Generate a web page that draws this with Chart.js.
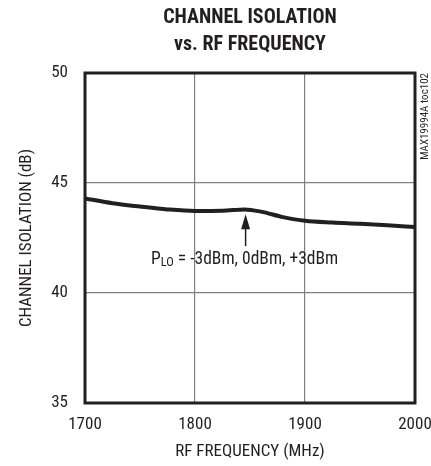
<!DOCTYPE html>
<html>
<head>
<meta charset="utf-8">
<script src="https://cdn.jsdelivr.net/npm/chart.js@4/dist/chart.umd.min.js"></script>
<style>
  html, body { margin: 0; padding: 0; background: #fff; }
  #wrap { width: 431px; height: 466px; position: relative; }
</style>
</head>
<body>
<div id="wrap"><canvas id="c" width="431" height="466"></canvas></div>
<script>
const FONT = "'Roboto Condensed', 'DejaVu Sans Condensed', sans-serif";

const titleLines = ["CHANNEL ISOLATION", "vs. RF FREQUENCY"];
const xTitle = "RF FREQUENCY (MHz)";
const yTitle = "CHANNEL ISOLATION (dB)";
const sideNote = "MAX19994A toc102";
const xTicks = [1700, 1800, 1900, 2000];
const yTicks = [35, 40, 45, 50];

const frequency = [1700, 1725, 1750, 1775, 1800, 1825, 1845, 1860, 1880, 1900, 1925, 1950, 1975, 2000];
const isolation = [44.3, 44.08, 43.93, 43.8, 43.73, 43.74, 43.8, 43.7, 43.45, 43.28, 43.2, 43.15, 43.08, 43.0];

const annotation = { label: "P", sub: "LO", rest: " = -3dBm, 0dBm, +3dBm", x: 1846, y: 43.72 };

const decor = {
  id: 'decor',
  afterDraw(chart) {
    const ctx = chart.ctx;
    const xs = chart.scales.x, ys = chart.scales.y;
    const ca = chart.chartArea;
    ctx.save();
    // title
    ctx.fillStyle = '#231f20';
    ctx.font = "bold 20px " + FONT;
    ctx.textAlign = 'center';
    ctx.textBaseline = 'middle';
    const cx = (ca.left + ca.right) / 2;
    ctx.fillText(titleLines[0], cx, 18);
    ctx.fillText(titleLines[1], cx, 45);

    // plot border
    ctx.strokeStyle = '#231f20';
    ctx.lineWidth = 3;
    ctx.strokeRect(ca.left, ca.top, ca.right - ca.left, ca.bottom - ca.top);

    // arrow
    const ax = xs.getPixelForValue(annotation.x);
    const ay = ys.getPixelForValue(annotation.y) + 3;
    ctx.fillStyle = '#231f20';
    ctx.lineWidth = 1.5;
    ctx.beginPath();
    ctx.moveTo(ax, ay + 10);
    ctx.lineTo(ax, ay + 32);
    ctx.stroke();
    ctx.beginPath();
    ctx.moveTo(ax, ay);
    ctx.lineTo(ax - 4.5, ay + 15);
    ctx.lineTo(ax + 4.5, ay + 15);
    ctx.closePath();
    ctx.fill();

    // annotation text
    const ty = ay + 45;
    let tx = 151;
    ctx.textAlign = 'left';
    ctx.textBaseline = 'middle';
    ctx.font = "17.5px " + FONT;
    ctx.fillText(annotation.label, tx, ty);
    tx += ctx.measureText(annotation.label).width;
    ctx.font = "12.5px " + FONT;
    ctx.fillText(annotation.sub, tx, ty + 4);
    tx += ctx.measureText(annotation.sub).width;
    ctx.font = "17.5px " + FONT;
    ctx.fillText(annotation.rest, tx, ty);

    // side note
    ctx.save();
    ctx.translate(425, ca.top);
    ctx.rotate(-Math.PI / 2);
    ctx.font = "11px " + FONT;
    ctx.textAlign = 'right';
    ctx.textBaseline = 'middle';
    ctx.fillText(sideNote, 0, 0);
    ctx.restore();
    ctx.restore();
  }
};

new Chart(document.getElementById('c'), {
  type: 'line',
  data: {
    datasets: [{
      data: frequency.map((f, i) => ({ x: f, y: isolation[i] })),
      borderColor: '#231f20',
      borderWidth: 4,
      pointRadius: 0,
      tension: 0.4,
      cubicInterpolationMode: 'monotone',
      fill: false
    }]
  },
  options: {
    responsive: false,
    animation: false,
    layout: { padding: { left: 0, right: 16, top: 73, bottom: 0 } },
    plugins: { legend: { display: false }, tooltip: { enabled: false }, title: { display: false } },
    scales: {
      x: {
        type: 'linear',
        min: 1700, max: 2000,
        afterBuildTicks(s) { s.ticks = xTicks.map(v => ({ value: v })); },
        afterFit(s) { s.height = 63; s.paddingLeft = 0; s.paddingRight = 0; },
        ticks: { color: '#231f20', font: { family: FONT, size: 17 }, padding: 12, maxRotation: 0,
                 callback: v => String(v) },
        grid: { color: '#808080', lineWidth: 1.2, drawTicks: false },
        border: { display: false },
        title: { display: true, text: xTitle, color: '#231f20', font: { family: FONT, size: 17 }, padding: { bottom: 4 } }
      },
      y: {
        min: 35, max: 50,
        afterBuildTicks(s) { s.ticks = yTicks.map(v => ({ value: v })); },
        afterFit(s) { s.width = 85; s.paddingTop = 0; s.paddingBottom = 0; },
        ticks: { color: '#231f20', font: { family: FONT, size: 17 }, padding: 17, callback: v => String(v) },
        grid: { color: '#808080', lineWidth: 1.2, drawTicks: false },
        border: { display: false },
        title: { display: true, text: yTitle, color: '#231f20', font: { family: FONT, size: 17 }, padding: { top: 17 } }
      }
    }
  },
  plugins: [decor]
});
</script>
</body>
</html>
